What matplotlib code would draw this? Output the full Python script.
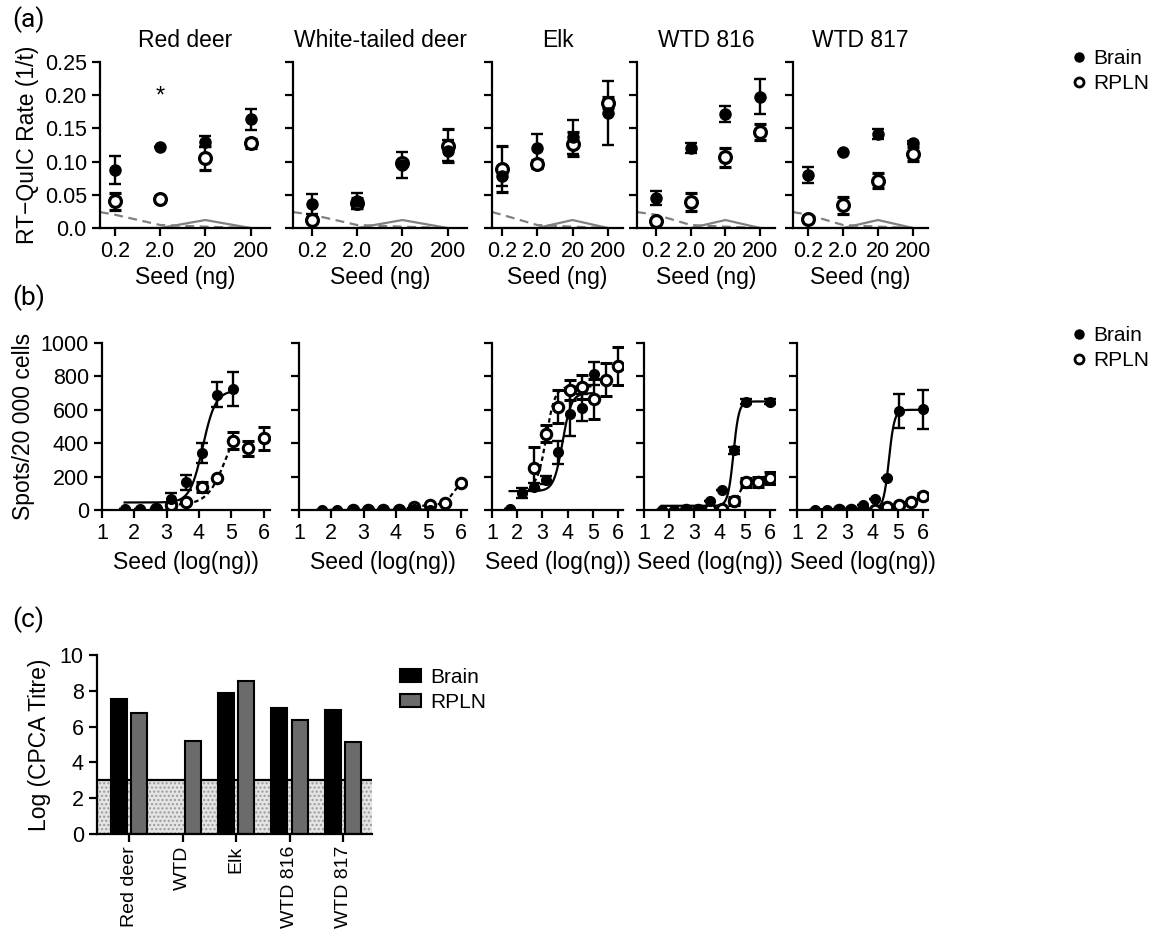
import numpy as np
import matplotlib.pyplot as plt
from matplotlib.lines import Line2D
from matplotlib.patches import Patch

plt.rcParams['font.family'] = ['Liberation Sans', 'DejaVu Sans']

# ---- data -------------------------------------------------------------
species = ['Red deer', 'White-tailed deer', 'Elk', 'WTD 816', 'WTD 817']
dose_labels = ['0.2', '2.0', '20', '200']

# (a) RT-QuIC rate, one row per species, one column per seed dose
rate_brain = [[0.0875, 0.1215, 0.130, 0.1635],
              [0.0365, 0.040, 0.095, 0.1165],
              [0.078, 0.121, 0.137, 0.1735],
              [0.045, 0.120, 0.1715, 0.1975],
              [0.080, 0.115, 0.1415, 0.1285]]
rate_brain_err = [[0.021, 0.0, 0.008, 0.016],
                  [0.015, 0.012, 0.019, 0.016],
                  [0.014, 0.020, 0.025, 0.048],
                  [0.011, 0.0075, 0.0125, 0.0265],
                  [0.012, 0.0, 0.008, 0.002]]
rate_rpln = [[0.040, 0.0435, 0.105, 0.1275],
             [0.0125, 0.0375, 0.0975, 0.124],
             [0.089, 0.096, 0.127, 0.189],
             [0.010, 0.039, 0.1065, 0.145],
             [0.0135, 0.034, 0.0715, 0.1115]]
rate_rpln_err = [[0.0125, 0.005, 0.018, 0.007],
                 [0.004, 0.007, 0.003, 0.025],
                 [0.035, 0.006, 0.018, 0.008],
                 [0.003, 0.014, 0.014, 0.012],
                 [0.005, 0.0125, 0.011, 0.010]]
ctrl_dash_edge = 0.024
ctrl_dash = [0.020, 0.0045, 0.002, 0.0]
ctrl_solid = [0.0, 0.0, 0.012, 0.0]

# (b) spots per 20 000 cells against log seed
log_seed = [1.70, 2.18, 2.66, 3.14, 3.61, 4.09, 4.57, 5.05, 5.52, 6.00]
nan = np.nan
spots_brain = [[5, 5, 5, 64, 165, 340, 690, 725, nan, nan],
               [0, 0, 0, 0, 0, 0, 5, 0, nan, nan],
               [5, 100, 140, 180, 345, 575, 612, 817, nan, nan],
               [0, 0, 0, 0, 55, 120, 358, 647, nan, 647],
               [0, 0, 0, 0, 30, 64, 193, 594, nan, 602]]
spots_brain_err = [[0, 0, 0, 35, 45, 60, 75, 100, nan, nan],
                   [0, 0, 0, 0, 0, 0, 0, 0, nan, nan],
                   [0, 30, 20, 25, 67, 130, 82, 70, nan, nan],
                   [0, 0, 0, 0, 0, 0, 20, 15, nan, 15],
                   [0, 0, 0, 0, 0, 0, 0, 100, nan, 115]]
spots_rpln = [[nan, nan, 5, 30, 50, 140, 190, 415, 370, 430],
              [nan, nan, 0, 0, 0, 0, 20, 30, 40, 160],
              [nan, nan, 250, 458, 618, 717, 737, 663, 781, 861],
              [nan, nan, 0, 0, 5, 5, 55, 165, 170, 190],
              [nan, nan, 0, 0, 0, 0, 15, 30, 45, 85]]
spots_rpln_err = [[nan, nan, 0, 10, 0, 30, 0, 50, 45, 70],
                  [nan, nan, 0, 0, 0, 0, 0, 0, 0, 0],
                  [nan, nan, 125, 50, 100, 60, 70, 120, 100, 113],
                  [nan, nan, 0, 0, 0, 0, 25, 25, 30, 35],
                  [nan, nan, 0, 0, 0, 0, 0, 0, 0, 15]]
# sigmoid fits: (bottom, top, logEC50, hill, x from, x to); None = join the points
brain_fit = [(45, 715, 4.12, 2.2, 1.70, 5.05),
             None,
             (113, 700, 3.80, 2.5, 1.70, 5.05),
             (25, 650, 4.55, 4.0, 1.70, 6.00),
             (5, 600, 4.65, 4.0, 1.70, 6.00)]
rpln_fit = [(30, 600, 4.85, 1.5, 3.14, 5.05),
            None,
            (130, 740, 3.15, 2.5, 2.66, 5.05),
            (5, 180, 4.75, 3.0, 2.66, 6.00),
            None]

# (c) CPCA titre
titre_groups = ['Red deer', 'WTD', 'Elk', 'WTD 816', 'WTD 817']
titre_brain = [7.53, nan, 7.90, 7.06, 6.90]
titre_rpln = [6.75, 5.20, 8.55, 6.37, 5.13]
titre_cutoff = 3.0

# ---- layout (pixels of the 1153x932 figure) ----------------------------
W, H = 1153, 932
a_cols = [(100, 270, -0.33), (293, 467, -0.42), (492, 623, -0.28),
          (637, 775, -0.55), (793, 928, -0.43)]
b_cols = [(102, 270), (299, 467), (492, 623), (644, 775), (797, 928)]


def px_rect(x0, x1, y0, y1):
    return [x0 / W, 1 - y1 / H, (x1 - x0) / W, (y1 - y0) / H]


def style(ax):
    for s in ['top', 'right']:
        ax.spines[s].set_visible(False)
    for s in ['left', 'bottom']:
        ax.spines[s].set_linewidth(1.6)
    ax.tick_params(direction='out', length=5.5, width=1.6, labelsize=15.5, pad=4)


def sigmoid(x, bottom, top, ec50, hill):
    return bottom + (top - bottom) / (1 + 10 ** ((ec50 - x) * hill))


eb = dict(capsize=4.5, elinewidth=1.7, capthick=1.7, ecolor='k', linestyle='none')

fig = plt.figure(figsize=(W / 100, H / 100), dpi=100)

# ---- (a) ----------------------------------------------------------------
xa = np.arange(len(dose_labels))
for i, name in enumerate(species):
    x0, x1, xl = a_cols[i]
    ax = fig.add_axes(px_rect(x0, x1, 62, 228))
    style(ax)
    ax.plot([xl, *xa], [ctrl_dash_edge, *ctrl_dash], color='#808080', lw=1.6,
            dashes=(4, 2.5), clip_on=False)
    ax.plot(xa, ctrl_solid, color='#808080', lw=1.6)
    ax.errorbar(xa, rate_rpln[i], yerr=rate_rpln_err[i], marker='o', ms=8.5,
                mfc='white', mec='k', mew=2.3, **eb)
    ax.errorbar(xa, rate_brain[i], yerr=rate_brain_err[i], marker='o', ms=8,
                mfc='k', mec='k', **eb)
    ax.set_xlim(xl, 3.43)
    ax.set_ylim(0, 0.25)
    ax.set_xticks(xa, dose_labels)
    ax.set_yticks([0, 0.05, 0.10, 0.15, 0.20, 0.25])
    if i == 0:
        ax.set_yticklabels(['0.0', '0.05', '0.10', '0.15', '0.20', '0.25'])
        ax.set_ylabel('RT\u2212QuIC Rate (1/t)', fontsize=16.5, labelpad=4)
        ax.text(1, 0.198, '*', ha='center', va='center', fontsize=17)
    else:
        ax.set_yticklabels([])
    ax.set_title(name, fontsize=16.5, pad=11)
    ax.set_xlabel('Seed (ng)', fontsize=16.5, labelpad=3)

# ---- (b) ----------------------------------------------------------------
xb = np.array(log_seed)
for i, name in enumerate(species):
    x0, x1 = b_cols[i]
    ax = fig.add_axes(px_rect(x0, x1, 343, 510))
    style(ax)
    for vals, fit, ls in [(spots_brain[i], brain_fit[i], '-'),
                          (spots_rpln[i], rpln_fit[i], (0, (2, 1.5)))]:
        if fit is None:
            v = np.array(vals, dtype=float)
            ok = ~np.isnan(v)
            ax.plot(xb[ok], v[ok], color='k', lw=1.6, linestyle=ls)
        else:
            bottom, top, ec50, hill, xf0, xf1 = fit
            xs = np.linspace(xf0, xf1, 200)
            ax.plot(xs, sigmoid(xs, bottom, top, ec50, hill), color='k', lw=1.6,
                    linestyle=ls)
    ax.errorbar(xb, spots_rpln[i], yerr=spots_rpln_err[i], marker='o', ms=7.5,
                mfc='white', mec='k', mew=2.2, **eb)
    ax.errorbar(xb, spots_brain[i], yerr=spots_brain_err[i], marker='o', ms=7,
                mfc='k', mec='k', **eb)
    ax.set_xlim(1, 6.2)
    ax.set_ylim(0, 1000)
    ax.set_xticks(range(1, 7))
    ax.set_yticks(range(0, 1001, 200))
    if i == 0:
        ax.set_ylabel('Spots/20 000 cells', fontsize=16.5, labelpad=4)
    else:
        ax.set_yticklabels([])
    ax.set_xlabel('Seed (log(ng))', fontsize=16.5, labelpad=5)

# legends for (a) and (b)
for yc in [71, 348]:
    hs = [Line2D([], [], marker='o', ls='none', ms=6.5, mfc='k', mec='k'),
          Line2D([], [], marker='o', ls='none', ms=6.5, mfc='white', mec='k', mew=2)]
    fig.legend(hs, ['Brain', 'RPLN'], loc='center left',
               bbox_to_anchor=(1063 / W, 1 - yc / H), frameon=False, fontsize=15,
               handlelength=0.7, handletextpad=0.35, labelspacing=0.3,
               borderaxespad=0)

# ---- (c) ----------------------------------------------------------------
ax = fig.add_axes(px_rect(97, 372, 655, 834))
style(ax)
xc = np.arange(len(titre_groups))
ax.axhspan(0, titre_cutoff, facecolor='#e4e4e4', edgecolor='#9a9a9a',
           hatch='....', lw=0, zorder=0)
ax.axhline(titre_cutoff, color='k', lw=1.6, zorder=1)
ax.bar(xc - 0.19, titre_brain, width=0.3, color='k', edgecolor='k', lw=1.5,
       zorder=2)
ax.bar(xc + 0.19, titre_rpln, width=0.3, color='#6b6b6b', edgecolor='k', lw=1.5,
       zorder=2)
ax.set_xlim(-0.6, len(titre_groups) - 1 + 0.54)
ax.set_ylim(0, 10)
ax.set_yticks(range(0, 11, 2))
ax.set_xticks(xc, titre_groups, rotation=90)
ax.tick_params(axis='x', labelsize=14, pad=3)
ax.set_ylabel('Log (CPCA Titre)', fontsize=16.5, labelpad=6)
ax.legend([Patch(facecolor='k', edgecolor='k', lw=1.5),
           Patch(facecolor='#6b6b6b', edgecolor='k', lw=1.5)], ['Brain', 'RPLN'],
          loc='center left', bbox_to_anchor=(392 / W, 1 - 690 / H),
          bbox_transform=fig.transFigure, frameon=False, fontsize=15,
          handlelength=1.0, handleheight=0.6, handletextpad=0.45,
          labelspacing=0.3, borderaxespad=0)

# panel letters
for lab, y in [('(a)', 6), ('(b)', 284), ('(c)', 606)]:
    fig.text(12 / W, 1 - y / H, lab, fontsize=19, family=['Roboto', 'DejaVu Sans'],
             va='top', ha='left')

fig.savefig('out.png', dpi=100)
